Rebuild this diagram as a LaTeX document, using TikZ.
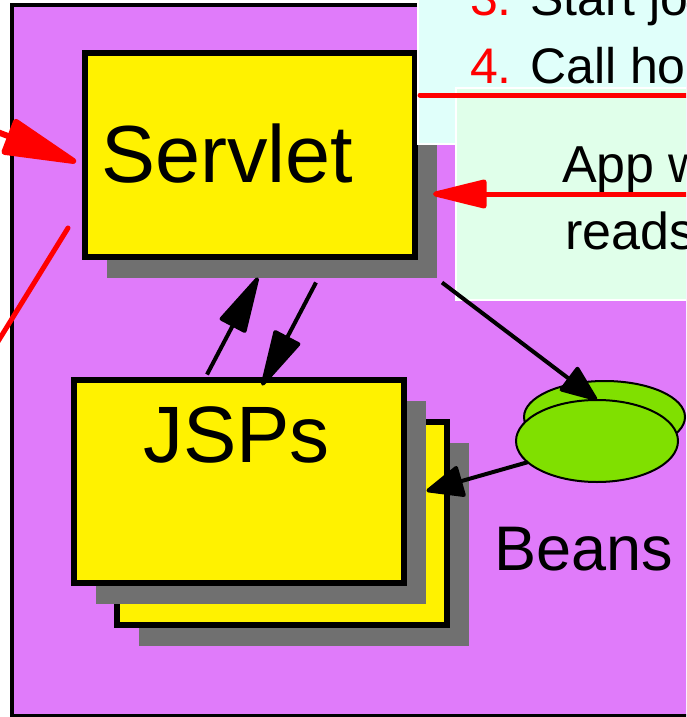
\documentclass[tikz,border=0pt]{standalone}
\usepackage{fontspec}
\setmainfont{Liberation Sans}
\usetikzlibrary{arrows.meta, shapes, shadows}

\definecolor{slidepurple}{RGB}{224,123,250}
\definecolor{notecyan}{RGB}{224,255,250}
\definecolor{notegreen}{RGB}{224,255,234}
\definecolor{beangreen}{RGB}{128,224,0}
\definecolor{shadowgray}{RGB}{112,112,112}

\begin{document}
\begin{tikzpicture}[x=1pt, y=-1pt, inner sep=0pt, outer sep=0pt]
\useasboundingbox (0,0) rectangle (686,717);
\clip (0,0) rectangle (686,717);
\fill[white] (0,0) rectangle (686,717);
\draw[line width=4pt, fill=slidepurple] (12,5.5) rectangle (730,716);

% servlet and the stack of jsps
\begin{scope}[every node/.style={rectangle, draw, line width=6pt, fill=yellow,
              minimum width=330pt, minimum height=203pt,
              drop shadow={shadow xshift=22pt, shadow yshift=-21pt, fill=shadowgray, opacity=1}}]
  \node (S) at (250,155) {};
  \node (J2) at (281.5,523) {};
  \node (J1) at (238.5,481) {};
\end{scope}

% notes on the right
\fill[notecyan, draw=white, line width=2pt] (418,-10) rectangle (720,144);
\fill[notegreen, draw=white, line width=2pt] (456,88) rectangle (720,300);
\draw[red, line width=5pt, line cap=round] (420,95) -- (720,95);

\begin{scope}[every node/.style={ellipse, draw, line width=2pt, fill=beangreen}]
  \node[minimum width=161pt, minimum height=72pt] (B2) at (604.5,417) {};
  \node[minimum width=162pt, minimum height=82pt] (B1) at (597,441) {};
\end{scope}

\begin{scope}[every node/.style={anchor=base west, inner sep=0pt}]
  \node[font=\fontsize{81}{97}\selectfont] (Stext) at (101,182) {Servlet};
  \node[font=\fontsize{80}{96}\selectfont] (Jtext) at (143,462) {JSPs};
  \node[font=\fontsize{63}{76}\selectfont] (Btext) at (494,570) {Beans};
  \node[font=\fontsize{50}{60}\selectfont] (step3) at (470,16) {\textcolor{red}{3.} Start jo};
  \node[font=\fontsize{50}{60}\selectfont] (step4) at (470,83) {\textcolor{red}{4.} Call ho};
  \node[font=\fontsize{52}{62}\selectfont] (app1) at (562,182) {App w};
  \node[font=\fontsize{52}{62}\selectfont] (app2) at (565,249) {reads};
\end{scope}

\begin{scope}[>={Triangle[length=62pt, width=30pt, round]},
              every edge/.style={draw=black, line width=4pt}]
    \path [->, >={Triangle[length=40pt, width=31pt, round]}] ([shift={(27,26)}]S.south east) edge (B1.north);
    \path [->, >={Triangle[length=40pt, width=33pt, round]}] (B1.197) edge ([shift={(23,10)}]J1.east);
    \path [->] ([shift={(-31.5,-5)}]J1.north) edge ([shift={(8,21)}]S.south);
    \path [->] ([shift={(66,26)}]S.south) edge ([shift={(23.5,6)}]J1.north);
\end{scope}

\begin{scope}[>={Triangle[length=62pt, width=29pt, round]},
              every edge/.style={draw=red, line width=5pt, line cap=round}]
    \coordinate (appsrc) at (720,194);
    \coordinate (reqsrc) at (-204,55);
    \coordinate (respend) at (-40,403);
    \path [->] (appsrc) edge ([shift={(18,39)}]S.east);
    \path [->, >={Triangle[length=84pt, width=38pt, round]}] (reqsrc) edge[line width=6pt] ([shift={(-9,7)}]S.west);
    \path ([shift={(-17,73)}]S.west) edge (respend);
\end{scope}

\end{tikzpicture}
\end{document}
